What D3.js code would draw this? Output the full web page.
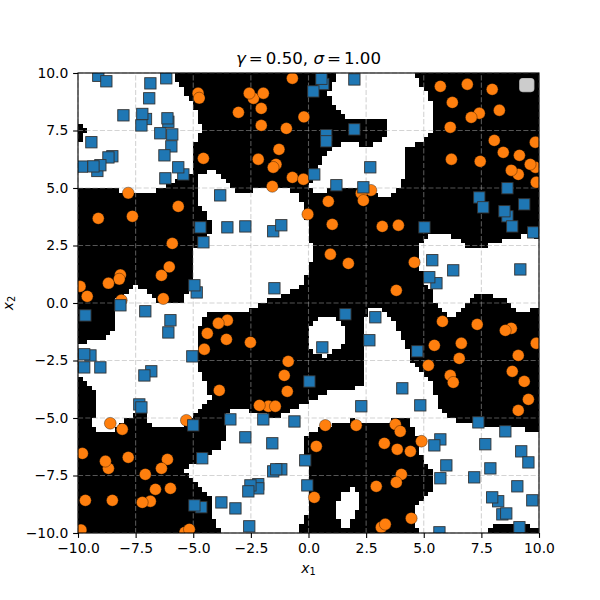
<!DOCTYPE html>
<html>
<head>
<meta charset="utf-8">
<script src="https://cdn.jsdelivr.net/npm/d3@7"></script>
<style>
  body { margin: 0; background: #fff; }
  text { font-family: "DejaVu Sans"; fill: #000; }
</style>
</head>
<body>
<svg id="chart" width="600" height="600"></svg>
<script>
// values, all in data units
const tickValues = [-10, -7.5, -5, -2.5, 0, 2.5, 5, 7.5, 10];
const tickLabels = ["\u221210.0", "\u22127.5", "\u22125.0", "\u22122.5", "0.0", "2.5", "5.0", "7.5", "10.0"];

const orangePoints = [
  [-0.70,9.77],[-4.79,9.12],[-4.74,8.91],[-2.39,8.90],[-2.57,9.12],[-1.96,9.12],[-2.05,8.46],[-3.04,8.29],
  [-0.20,8.09],[-2.05,7.72],[-0.96,7.59],[-1.28,6.68],[-4.56,6.29],[-2.18,6.25],[-1.41,6.03],[-1.53,5.90],
  [-0.70,5.46],[-0.22,5.38],[-1.57,5.07],[-7.82,4.78],[-0.03,3.86],[-5.65,4.20],[-9.12,3.68],[-7.64,3.77],
  [-5.91,2.59],[-6.04,1.57],[-6.38,1.20],[-8.16,1.22],[-8.21,1.04],[-8.68,0.86],[-9.91,0.72],[-9.60,0.29],
  [-8.12,0.12],[-6.30,0.19],
  [5.72,9.42],[6.89,9.51],[7.97,9.29],[6.24,8.72],[7.41,8.25],[8.28,8.38],[7.06,8.07],[6.15,7.64],
  [8.06,7.07],[9.84,6.99],[8.45,6.55],[9.15,6.42],[9.84,5.90],[9.62,6.03],[6.20,6.25],[7.45,6.16],
  [9.10,5.59],[8.80,5.77],[9.88,5.25],[2.71,4.90],[2.29,4.77],[2.38,4.46],[0.86,4.42],[1.03,3.42],
  [3.20,3.33],[3.90,3.38],[0.95,2.12],[1.73,1.72],[4.59,1.77],[3.81,0.55],
  [-3.52,-0.75],[-3.91,-0.88],[-4.39,-1.32],[-3.56,-1.58],[-4.52,-2.01],[-2.52,-1.71],[-0.88,-2.54],
  [-1.05,-3.15],[-0.92,-3.84],[-3.87,-3.80],[-1.74,-4.49],[-2.13,-4.45],[-1.44,-4.49],[-8.60,-5.23],
  [-8.08,-5.49],[-5.30,-5.10],[-9.81,-6.54],[-8.68,-7.19],[-8.81,-6.88],[-7.82,-6.71],[-6.12,-6.80],
  [-6.38,-7.19],[-7.08,-7.45],[-6.64,-8.10],[-5.99,-8.06],[-9.68,-8.58],[-8.51,-8.58],[-6.86,-8.62],
  [-7.21,-8.67],[-9.87,-9.87],[-5.36,-9.97],[-5.17,-9.84],
  [0.73,-5.32],[2.07,-5.32],[5.81,-0.80],[7.32,-0.93],[8.80,-1.10],[8.54,-1.19],[9.88,-1.75],[5.46,-1.84],
  [6.63,-1.75],[9.10,-2.28],[6.54,-2.41],[5.20,-2.71],[8.84,-2.97],[6.15,-3.15],[6.28,-3.45],[9.36,-3.41],
  [9.54,-4.19],[9.10,-4.67],[3.77,-5.28],[3.98,-5.58],[3.29,-6.10],[3.85,-6.36],[4.42,-6.45],[4.90,-6.01],
  [0.34,-6.23],[4.03,-7.45],[3.81,-7.80],[2.94,-7.97],[0.25,-8.45],[4.46,-9.36],[3.16,-9.75],[3.33,-9.62]
];

const bluePoints = [
  [-9.12,9.88],[-8.77,9.64],[-6.86,9.55],[-6.17,9.77],[-6.91,8.90],[-8.03,8.16],[-7.05,8.00],[-7.21,8.22],
  [-6.08,7.88],[-6.12,8.03],[-7.25,7.72],[-6.43,7.38],[-5.91,7.33],[-5.95,6.81],[-9.42,6.99],[-6.25,6.42],
  [-8.51,6.38],[-8.68,6.33],[-9.16,5.74],[-9.03,5.99],[-9.83,5.93],[-9.33,5.94],[-5.43,5.59],[-5.65,5.90],
  [-6.21,5.42],[-3.83,4.68],[-4.69,3.29],[-3.52,3.29],[-2.74,3.33],[-1.53,3.12],[-1.18,3.38],[-4.56,2.64],
  [-4.85,0.46],[-4.95,0.77],[-1.48,0.64],[-8.16,-0.10],
  [0.64,9.52],[0.56,9.75],[0.21,9.20],[1.99,9.72],[1.99,7.55],[0.77,7.30],[0.77,7.03],[2.68,5.90],
  [0.25,5.59],[1.21,5.12],[2.38,5.03],[8.63,4.99],[7.41,4.59],[7.58,4.16],[8.63,3.77],[8.50,3.99],
  [9.36,4.29],[8.84,3.33],[5.03,3.29],[9.75,3.07],[5.37,1.86],[6.28,1.42],[5.55,0.86],[5.24,1.12],[9.19,1.46],
  [-9.68,-0.54],[-7.08,-0.36],[-5.99,-0.75],[-6.08,-1.28],[-9.46,-2.28],[-9.73,-2.23],[-5.04,-2.32],
  [-9.73,-2.80],[-9.03,-2.80],[-6.82,-2.97],[-7.12,-3.15],[-7.34,-4.41],[-7.25,-4.54],[-5.00,-5.32],
  [-3.39,-5.06],[-1.96,-5.06],[-0.61,-5.15],[-2.74,-5.84],[-1.57,-6.10],[-4.61,-6.75],[-1.18,-7.23],
  [-1.53,-7.32],[-1.40,-7.23],[-0.14,-6.84],[0.04,-3.41],[-2.18,-7.88],[-2.18,-8.06],[-2.52,-7.93],
  [-2.61,-8.19],[-0.05,-7.93],[-4.65,-8.88],[-4.95,-8.80],[-3.78,-8.67],[-3.17,-8.93],[-2.57,-9.71],
  [1.60,-0.49],[2.90,-0.62],[0.60,-1.93],[2.64,-1.62],[4.72,-2.10],[4.07,-3.71],[2.29,-4.49],[4.85,-4.45],
  [7.37,-5.19],[8.54,-5.58],[5.72,-5.93],[5.46,-6.19],[7.67,-6.14],[9.23,-6.45],[9.54,-6.93],[5.98,-7.06],
  [7.89,-7.19],[5.72,-7.62],[7.19,-7.58],[9.06,-7.97],[8.23,-8.62],[7.97,-8.45],[9.71,-8.58],[8.41,-9.19],
  [8.58,-9.15],[9.15,-9.75],[5.68,-9.97]
];

// outlines of the white decision areas, everything else is black
const topLeftArea = [[-5.94,10],[-5.51,9.33],[-5.0,8.68],[-4.71,8.03],[-4.68,7.45],[-4.92,6.87],[-5.03,6.22],[-5.11,5.42],
  [-5.65,5.42],[-6.01,5.13],[-6.44,4.99],[-6.95,4.77],[-7.38,4.72],[-7.96,4.87],[-8.76,5.03],[-10,5.03],[-10,6.87],
  [-9.83,7.09],[-9.65,7.45],[-9.83,7.74],[-10,8.03],[-10,10]];
const topMiddleArea = [[0.86,9.04],[1.03,9.62],[1.37,10],[4.55,10],[4.91,9.41],[5.41,8.61],[5.49,7.74],[5.27,7.45],[4.91,7.01],
  [4.19,6.72],[4.11,6.29],[4.11,5.42],[3.75,4.84],[3.32,4.58],[2.96,4.70],[2.74,4.91],[1.80,4.96],[1.44,5.01],[0.14,4.77],
  [0.07,5.06],[0.43,5.86],[0.79,6.51],[1.29,6.87],[1.73,6.99],[2.38,6.87],[3.17,6.94],[3.39,7.38],[3.39,7.74],[3.25,8.03],
  [2.81,8.10],[2.31,8.06],[1.58,8.10],[1.22,8.46]];
const rightArea = [[4.74,2.09],[4.98,2.74],[5.41,2.96],[6.07,2.93],[6.64,2.67],[6.93,2.45],[7.51,2.45],[8.38,2.67],[9.10,2.88],
  [9.68,2.96],[10,2.85],[10,-0.10],[9.83,-0.16],[9.32,-0.42],[8.89,-0.23],[8.52,0.13],[8.38,0.20],[7.80,0.35],[7.22,0.35],
  [6.93,0.03],[6.64,-0.38],[6.21,-0.57],[5.78,-0.38],[5.42,0.13],[5.41,0.57],[5.05,0.93],[4.84,1.51]];
const centerLeftArea = [[-4.88,5.35],[-4.56,5.68],[-4.13,5.74],[-3.77,5.49],[-3.48,5.13],[-3.19,4.87],[-2.54,4.87],[-2.25,5.01],
  [-1.67,5.10],[-0.95,5.01],[-0.37,4.62],[-0.22,4.26],[-0.08,3.54],[-0.01,3.03],[0.17,2.23],[0.07,1.51],[-0.15,1.09],[-0.37,0.78],
  [-0.80,0.49],[-1.38,0.20],[-1.9,0.05],[-2.54,-0.30],[-2.97,-0.45],[-3.55,-0.48],[-4.27,-0.45],[-4.63,-0.67],[-4.78,-1.17],
  [-4.78,-1.75],[-4.78,-2.77],[-4.49,-3.35],[-4.27,-4.07],[-4.56,-4.36],[-5.0,-4.87],[-5.29,-5.23],[-5.57,-5.35],[-6.15,-5.45],
  [-6.73,-5.35],[-7.02,-4.94],[-7.24,-4.72],[-7.53,-4.80],[-7.82,-5.01],[-8.18,-5.38],[-8.61,-5.64],[-9.12,-5.64],[-9.33,-5.38],
  [-9.26,-4.51],[-9.31,-3.71],[-9.70,-3.35],[-10,-3.06],[-10,-1.83],[-9.48,-1.68],[-8.90,-1.58],[-8.54,-1.32],[-8.35,-0.74],
  [-8.35,0.13],[-8.03,0.20],[-7.45,0.75],[-6.95,0.49],[-6.56,0.13],[-6.37,0],[-6.44,-0.09],[-6.0,-0.09],[-5.5,0.0],[-5.36,0.28],
  [-5.14,0.49],[-4.97,1.07],[-4.97,1.94],[-4.92,2.38],[-4.49,2.67],[-4.35,2.96],[-4.20,3.25],[-4.20,3.54],[-4.63,4.12],[-4.88,4.55]];
const lowerArea = [[-3.41,-4.65],[-2.83,-4.65],[-2.25,-4.87],[-1.38,-4.94],[-0.80,-4.72],[0,-4.29],[0.72,-3.93],[2.16,-3.67],
  [2.45,-3.35],[2.48,-2.48],[2.42,-1.75],[2.38,-0.88],[2.67,-0.23],[3.10,-0.13],[3.54,-0.59],[3.97,-1.32],[4.26,-1.90],[4.45,-2.48],
  [4.98,-2.99],[5.42,-3.64],[5.56,-4.36],[5.92,-4.87],[6.64,-5.16],[7.37,-5.30],[8.52,-5.45],[9.83,-5.52],[10,-5.55],[10,-9.80],
  [9.83,-9.80],[9.10,-9.51],[8.09,-9.58],[7.66,-10],[4.84,-10],[4.69,-9.87],[4.55,-9.15],[4.84,-8.64],[5.42,-8.06],[5.49,-7.55],
  [5.27,-7.12],[4.77,-6.54],[4.69,-5.67],[4.33,-5.09],[3.68,-5.06],[3.17,-5.26],[2.74,-5.30],[1.94,-5.09],[1.29,-5.23],[0.43,-5.52],
  [-0.08,-5.74],[-0.18,-6.10],[-0.08,-6.83],[-0.08,-7.99],[-0.08,-9.15],[-0.22,-9.29],[-0.37,-10],[-3.81,-10],[-4.13,-9.29],
  [-4.13,-8.71],[-4.42,-8.20],[-4.92,-7.84],[-5.21,-7.55],[-5.36,-7.26],[-5.0,-6.97],[-4.35,-6.68],[-3.77,-6.25],[-3.55,-5.67],[-3.55,-4.87]];
const smallBlob = [[-0.08,-1.32],[0.21,-0.81],[0.72,-0.57],[1.22,-0.74],[1.66,-1.25],[1.66,-1.68],[1.29,-1.97],[0.72,-2.33],[0.28,-2.12],[-0.04,-1.75]];
const smallOval = [[1.15,-9.0],[1.44,-8.28],[1.87,-7.99],[2.16,-8.35],[2.09,-9.0],[1.73,-9.72],[1.37,-9.70]];
const whiteAreas = [topLeftArea, topMiddleArea, rightArea, centerLeftArea, lowerArea, smallBlob, smallOval];

const gridSize = 100;

const margin = {left: 78, right: 61, top: 73, bottom: 67};
const svg = d3.select("#chart");
const x = d3.scaleLinear().domain([-10, 10]).range([margin.left, 600 - margin.right]);
const y = d3.scaleLinear().domain([-10, 10]).range([600 - margin.bottom, margin.top]);

//Decision surface, one cell per grid step
const cellStep = 20 / gridSize;
const cells = [];
d3.range(gridSize).forEach(i => {
    d3.range(gridSize).forEach(j => {
        const cx = -10 + (i + 0.5) * cellStep;
        const cy = -10 + (j + 0.5) * cellStep;
        if (whiteAreas.some(area => d3.polygonContains(area, [cx, cy]))) {
            cells.push([cx, cy]);
        }
    });
});

svg.append("rect")
    .attr("x", x(-10)).attr("y", y(10))
    .attr("width", x(10) - x(-10)).attr("height", y(-10) - y(10))
    .attr("fill", "#000");

svg.append("g").attr("shape-rendering", "crispEdges")
    .selectAll("rect").data(cells).join("rect")
    .attr("x", d => x(d[0] - cellStep / 2))
    .attr("y", d => y(d[1] + cellStep / 2))
    .attr("width", x(cellStep) - x(0))
    .attr("height", y(0) - y(cellStep))
    .attr("fill", "#fff");

//Grid
const grid = svg.append("g")
    .attr("stroke", "#aaaaaa").attr("stroke-opacity", 0.5)
    .attr("stroke-width", 1.1).attr("stroke-dasharray", "5.1 2.2").attr("fill", "none");
tickValues.forEach(t => {
    grid.append("line").attr("x1", x(t)).attr("x2", x(t)).attr("y1", y(-10)).attr("y2", y(10));
    grid.append("line").attr("x1", x(-10)).attr("x2", x(10)).attr("y1", y(t)).attr("y2", y(t));
});

//Points, clipped to the axes
svg.append("clipPath").attr("id", "plotClip").append("rect")
    .attr("x", x(-10)).attr("y", y(10))
    .attr("width", x(10) - x(-10)).attr("height", y(-10) - y(10));
const points = svg.append("g").attr("clip-path", "url(#plotClip)");

points.selectAll("circle").data(orangePoints).join("circle")
    .attr("cx", d => x(d[0])).attr("cy", d => y(d[1])).attr("r", 5.9)
    .attr("fill", "#ff7f0e").attr("stroke", "#000").attr("stroke-opacity", 0.5).attr("stroke-width", 0.7);

const squareSize = 11.3;
points.selectAll("rect").data(bluePoints).join("rect")
    .attr("x", d => x(d[0]) - squareSize / 2).attr("y", d => y(d[1]) - squareSize / 2)
    .attr("width", squareSize).attr("height", squareSize)
    .attr("fill", "#1f77b4").attr("stroke", "#333").attr("stroke-width", 0.9);

//Empty legend frame
svg.append("rect")
    .attr("x", x(10) - 19.3).attr("y", y(10) + 5.6)
    .attr("width", 14.2).attr("height", 13).attr("rx", 3)
    .attr("fill", "#fff").attr("fill-opacity", 0.8)
    .attr("stroke", "#ccc").attr("stroke-opacity", 0.8).attr("stroke-width", 1.1);

//Axes
const xAxis = d3.axisBottom(x).tickValues(tickValues).tickFormat((d, i) => tickLabels[i]).tickSize(4.9).tickPadding(4.8).tickSizeOuter(0);
const yAxis = d3.axisLeft(y).tickValues(tickValues).tickFormat((d, i) => tickLabels[i]).tickSize(4.9).tickPadding(4.8).tickSizeOuter(0);
svg.append("g").attr("transform", `translate(0,${y(-10)})`).call(xAxis);
svg.append("g").attr("transform", `translate(${x(-10)},0)`).call(yAxis);
svg.selectAll(".tick text").attr("font-size", 13.9).attr("font-family", "DejaVu Sans");
svg.selectAll(".tick line").attr("stroke-width", 1.1);
svg.selectAll(".domain").remove();

svg.append("rect")
    .attr("x", x(-10)).attr("y", y(10))
    .attr("width", x(10) - x(-10)).attr("height", y(-10) - y(10))
    .attr("fill", "none").attr("stroke", "#000").attr("stroke-width", 1.1);

//Title and axis labels
const title = svg.append("text").attr("x", (x(-10) + x(10)) / 2).attr("y", 63.5)
    .attr("text-anchor", "middle").attr("font-size", 16.67);
title.append("tspan").attr("font-style", "italic").text("\u03b3");
title.append("tspan").attr("dx", 3).text("=");
title.append("tspan").attr("dx", 3).text("0.50, ");
title.append("tspan").attr("font-style", "italic").text("\u03c3");
title.append("tspan").attr("dx", 3).text("=");
title.append("tspan").attr("dx", 3).text("1.00");

const xLabel = svg.append("text").attr("x", (x(-10) + x(10)) / 2).attr("y", 572.5)
    .attr("text-anchor", "middle").attr("font-size", 13.9);
xLabel.append("tspan").attr("font-style", "italic").text("x");
xLabel.append("tspan").attr("font-size", 9.7).attr("dy", 2).text("1");

const yLabel = svg.append("text")
    .attr("transform", `translate(13,${(y(-10) + y(10)) / 2}) rotate(-90)`)
    .attr("text-anchor", "middle").attr("font-size", 13.9);
yLabel.append("tspan").attr("font-style", "italic").text("x");
yLabel.append("tspan").attr("font-size", 9.7).attr("dy", 2).text("2");
</script>
</body>
</html>
